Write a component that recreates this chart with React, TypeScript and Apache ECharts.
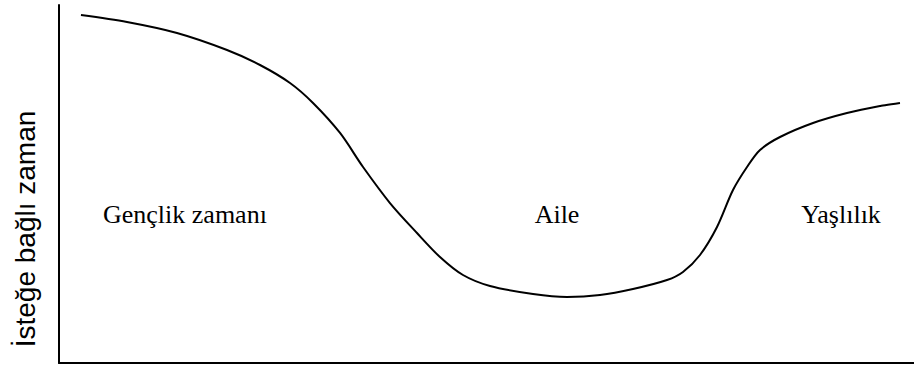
import React, { useEffect, useRef } from "react";
import * as echarts from "echarts";

// Life stage (x, 0..100) and discretionary time (y, 0..100)
const lifeStage = [2.57, 7.95, 13.8, 19.65, 23.51, 27.02, 29.71, 32.87, 35.56, 38.71, 41.87, 44.56, 47.25, 50.41, 55.44, 59.42, 63.27, 67.13, 71.11, 72.98, 74.97, 76.96, 78.83, 80.47, 81.99, 84.33, 88.19, 92.16, 96.02, 98.36];
const freeTime = [97.21, 95.25, 92.18, 87.43, 83.24, 78.21, 72.63, 64.25, 54.75, 44.69, 36.31, 29.61, 24.58, 21.51, 19.27, 18.44, 18.99, 20.67, 23.18, 25.42, 30.17, 37.99, 48.32, 54.75, 59.5, 63.13, 67.04, 69.83, 71.79, 72.63];

const stageLabels = ["Gençlik zamanı", "Aile", "Yaşlılık"];
const yTitle = "İsteğe bağlı zaman";

export default function App() {
  const ref = useRef<HTMLDivElement>(null);
  useEffect(() => {
    document.body.style.margin = "0";
    const chart = echarts.init(ref.current!, null, { renderer: "svg" });
    const serif = '"Liberation Serif", "Times New Roman", serif';
    const sans = '"Liberation Sans", Arial, sans-serif';
    chart.setOption({
      animation: false,
      backgroundColor: "#fff",
      grid: { left: 59, right: 0, top: 5, bottom: 2, containLabel: false },
      xAxis: {
        type: "value",
        min: 0,
        max: 100,
        axisLine: { show: true, onZero: false, lineStyle: { color: "#000", width: 2 } },
        axisTick: { show: false },
        axisLabel: { show: false },
        splitLine: { show: false },
      },
      yAxis: {
        type: "value",
        min: 0,
        max: 100,
        axisLine: { show: true, onZero: false, lineStyle: { color: "#000", width: 2 } },
        axisTick: { show: false },
        axisLabel: { show: false },
        splitLine: { show: false },
      },
      series: [
        {
          type: "line",
          data: lifeStage.map((x, i) => [x, freeTime[i]]),
          smooth: 0.3,
          showSymbol: false,
          lineStyle: { color: "#000", width: 2 },
        },
      ],
      graphic: [
        {
          type: "text",
          x: 103,
          y: 214,
          style: { text: stageLabels[0], font: `26px ${serif}`, fill: "#000", textAlign: "left", textVerticalAlign: "middle" },
        },
        {
          type: "text",
          x: 557,
          y: 214,
          style: { text: stageLabels[1], font: `26px ${serif}`, fill: "#000", textAlign: "center", textVerticalAlign: "middle" },
        },
        {
          type: "text",
          x: 841,
          y: 214,
          style: { text: stageLabels[2], font: `26px ${serif}`, fill: "#000", textAlign: "center", textVerticalAlign: "middle" },
        },
        {
          type: "text",
          x: 25,
          y: 229,
          rotation: Math.PI / 2,
          style: { text: yTitle, font: `28px ${sans}`, fill: "#000", textAlign: "center", textVerticalAlign: "middle" },
        },
      ],
    });
    return () => chart.dispose();
  }, []);
  return <div ref={ref} style={{ width: 914, height: 365 }} />;
}
